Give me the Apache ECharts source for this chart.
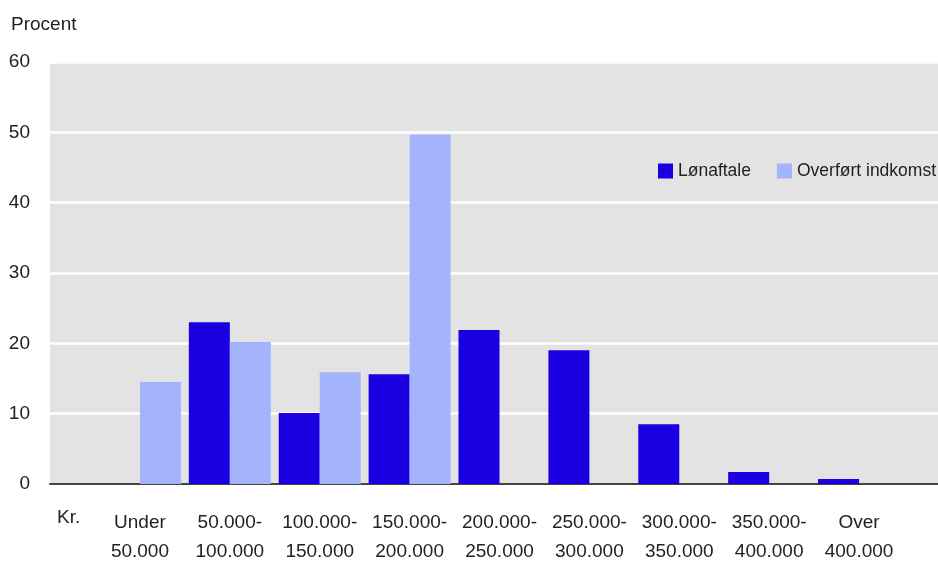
<!DOCTYPE html>
<html>
<head>
<meta charset="utf-8">
<script src="https://cdn.jsdelivr.net/npm/echarts@6/dist/echarts.min.js"></script>
<style>html,body{margin:0;padding:0;background:#fff}#c{width:938px;height:563px}</style>
</head>
<body>
<div id="c"></div>
<script>
var categories = ['Under\n50.000', '50.000-\n100.000', '100.000-\n150.000', '150.000-\n200.000', '200.000-\n250.000', '250.000-\n300.000', '300.000-\n350.000', '350.000-\n400.000', 'Over\n400.000'];
var lonaftale = [0, 23.0, 10.1, 15.6, 21.9, 19.0, 8.5, 1.7, 0.7];
var overfort = [14.5, 20.2, 15.9, 49.7, 0, 0, 0, 0, 0];
var seriesNames = ['Lønaftale', 'Overført indkomst'];
var yTitle = 'Procent';
var xTitle = 'Kr.';

var FONT = '"Liberation Sans", Arial, sans-serif';
var chart = echarts.init(document.getElementById('c'), null, {renderer: 'canvas'});
chart.setOption({
  animation: false,
  textStyle: {fontFamily: FONT, color: '#222'},
  grid: [
    {left: 50, right: 0, top: 62, bottom: 79, show: true, backgroundColor: '#e3e3e3', borderWidth: 0, containLabel: false, outerBoundsMode: 'none'},
    {left: 95, right: 34, top: 62, bottom: 79, containLabel: false, outerBoundsMode: 'none'}
  ],
  legend: {
    orient: 'horizontal', left: 658, top: 162, width: 300, padding: 0,
    itemWidth: 15, itemHeight: 15, itemGap: 26,
    icon: 'rect',
    textStyle: {fontFamily: FONT, fontSize: 17.5, color: '#222'},
    data: seriesNames
  },
  xAxis: [
    {gridIndex: 0, type: 'value', min: 0, max: 1, axisLine: {show: true, onZero: false, lineStyle: {color: '#444', width: 2}},
     axisTick: {show: false}, axisLabel: {show: false}, splitLine: {show: false}},
    {gridIndex: 1, type: 'category', data: categories, axisLine: {show: false}, axisTick: {show: false},
     axisLabel: {fontFamily: FONT, fontSize: 19, color: '#222', lineHeight: 29, margin: 24, interval: 0}}
  ],
  yAxis: [
    {gridIndex: 0, type: 'value', min: 0, max: 60, interval: 10,
     axisLine: {show: false}, axisTick: {show: false},
     axisLabel: {fontFamily: FONT, fontSize: 19, color: '#222', margin: 20},
     splitLine: {show: true, lineStyle: {color: '#ffffff', width: 2.5}}},
    {gridIndex: 1, type: 'value', min: 0, max: 60, interval: 10, show: false, splitLine: {show: false}}
  ],
  graphic: [
    {type: 'text', x: 11, y: 25, style: {text: yTitle, font: '19px ' + FONT, fill: '#222', textVerticalAlign: 'middle'}},
    {type: 'text', x: 57, y: 518, style: {text: xTitle, font: '19px ' + FONT, fill: '#222', textVerticalAlign: 'middle'}}
  ],
  series: [
    {name: seriesNames[0], type: 'bar', xAxisIndex: 1, yAxisIndex: 1, data: lonaftale, barWidth: 41, barGap: '0%', itemStyle: {color: '#1a00e0'}},
    {name: seriesNames[1], type: 'bar', xAxisIndex: 1, yAxisIndex: 1, data: overfort, barWidth: 41, barGap: '0%', itemStyle: {color: '#a3b4fd'}}
  ]
});
</script>
</body>
</html>
